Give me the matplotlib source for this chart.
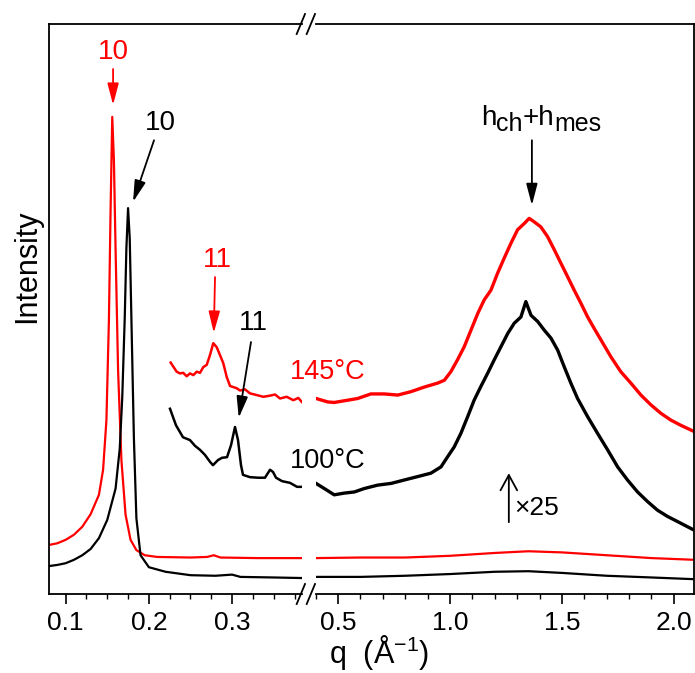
import numpy as np
import matplotlib
matplotlib.use("Agg")
import matplotlib.pyplot as plt
from matplotlib.ticker import MultipleLocator, FormatStrFormatter

plt.rcParams['font.family'] = ['Liberation Sans', 'DejaVu Sans']
plt.rcParams['mathtext.default'] = 'regular'

RED = '#ff0000'

# ---- data (q in 1/A, intensity in arbitrary units) ----
# full-scale curves, low q part
q_low_main_100 = [0.080, 0.090, 0.100, 0.110, 0.120, 0.130, 0.140, 0.150, 0.160, 0.165,
                  0.168, 0.171, 0.173, 0.175, 0.177, 0.179, 0.182, 0.185, 0.190, 0.200,
                  0.220, 0.250, 0.280, 0.300, 0.310, 0.350, 0.384]
i_low_main_100 = [4.9, 5.1, 5.4, 6.0, 6.8, 7.9, 9.8, 13.0, 18.5, 25.5,
                  34.4, 48.4, 60.7, 67.7, 62.4, 48.4, 27.4, 13.3, 6.8, 4.7,
                  3.9, 3.3, 3.2, 3.4, 3.0, 2.9, 2.8]

q_low_main_145 = [0.080, 0.090, 0.100, 0.110, 0.120, 0.130, 0.140, 0.145, 0.149, 0.152,
                  0.154, 0.156, 0.158, 0.160, 0.163, 0.167, 0.172, 0.178, 0.185, 0.195,
                  0.210, 0.250, 0.270, 0.278, 0.286, 0.330, 0.384]
i_low_main_145 = [8.6, 8.9, 9.5, 10.4, 11.8, 14.0, 17.4, 21.8, 30.5, 48.1,
                  67.4, 83.7, 76.1, 60.4, 39.3, 23.5, 13.9, 9.5, 7.7, 6.8,
                  6.5, 6.4, 6.5, 6.8, 6.4, 6.3, 6.3]

# full-scale curves, high q part
q_high_main = [0.402, 0.6, 0.8, 1.0, 1.2, 1.35, 1.5, 1.7, 1.9, 2.09]
i_high_main_100 = [3.0, 3.0, 3.2, 3.5, 3.9, 4.0, 3.7, 3.2, 2.9, 2.6]
i_high_main_145 = [6.3, 6.4, 6.4, 6.7, 7.2, 7.5, 7.3, 6.8, 6.3, 6.0]

# x25 magnified curves, low q part
q_low_x25_145 = [0.2262, 0.2293, 0.2334, 0.2374, 0.2413, 0.2454, 0.2494, 0.2534, 0.2575, 0.2614,
                 0.2654, 0.2695, 0.2734, 0.2774, 0.2815, 0.2855, 0.2894, 0.2935, 0.2975, 0.3014,
                 0.3055, 0.3095, 0.3155, 0.3215, 0.3296, 0.3375, 0.3456, 0.3516, 0.3576, 0.3656,
                 0.3736, 0.3796, 0.3837]
i_low_x25_145 = [40.6, 39.9, 39.0, 38.7, 38.8, 38.2, 38.7, 38.4, 39.0, 38.8,
                 39.8, 40.2, 41.9, 44.0, 43.3, 41.9, 40.5, 38.1, 36.5, 36.3,
                 36.1, 35.7, 35.9, 35.2, 34.9, 34.6, 34.8, 35.0, 34.3, 34.6,
                 34.0, 34.4, 33.7]

q_low_x25_100 = [0.2254, 0.2326, 0.2410, 0.2494, 0.2554, 0.2614, 0.2674, 0.2734, 0.2770, 0.2831,
                 0.2879, 0.2939, 0.2987, 0.3035, 0.3071, 0.3107, 0.3131, 0.3215, 0.3311, 0.3395,
                 0.3456, 0.3492, 0.3528, 0.3600, 0.3696, 0.3780, 0.3840]
i_low_x25_100 = [32.5, 29.6, 27.5, 27.0, 26.0, 25.3, 24.4, 23.2, 22.6, 23.5,
                 23.9, 24.0, 26.1, 29.3, 27.0, 22.6, 20.9, 20.5, 20.4, 20.4,
                 21.8, 21.4, 20.4, 19.8, 19.5, 18.8, 18.8]

# x25 magnified curves, high q part
q_high_x25_145 = [0.402, 0.454, 0.483, 0.528, 0.588, 0.647, 0.707, 0.767, 0.826, 0.885,
                  0.945, 0.975, 1.004, 1.034, 1.064, 1.094, 1.124, 1.153, 1.183, 1.213,
                  1.242, 1.272, 1.302, 1.332, 1.354, 1.376, 1.406, 1.436, 1.466, 1.496,
                  1.525, 1.555, 1.585, 1.615, 1.644, 1.674, 1.719, 1.763, 1.808, 1.853,
                  1.897, 1.942, 1.987, 2.031, 2.091]
i_high_x25_145 = [34.3, 33.7, 33.6, 33.9, 34.3, 35.1, 35.1, 34.9, 35.5, 36.3,
                  37.0, 37.5, 39.0, 41.1, 43.4, 46.3, 49.2, 51.6, 53.3, 56.3,
                  58.9, 61.5, 63.9, 65.0, 65.9, 65.3, 64.4, 62.7, 60.4, 58.0,
                  55.7, 53.3, 51.0, 48.6, 46.6, 44.6, 41.6, 39.0, 37.0, 34.9,
                  33.2, 31.7, 30.5, 29.6, 28.5]

q_high_x25_100 = [0.402, 0.439, 0.483, 0.528, 0.573, 0.617, 0.677, 0.737, 0.796, 0.856,
                  0.915, 0.960, 0.990, 1.019, 1.049, 1.079, 1.108, 1.138, 1.168, 1.198,
                  1.228, 1.258, 1.287, 1.317, 1.339, 1.362, 1.392, 1.421, 1.451, 1.481,
                  1.510, 1.540, 1.570, 1.615, 1.659, 1.704, 1.749, 1.793, 1.838, 1.883,
                  1.927, 1.972, 2.017, 2.061, 2.091]
i_high_x25_100 = [19.4, 18.5, 17.4, 17.7, 17.9, 18.5, 19.1, 19.4, 20.0, 20.6,
                  21.2, 22.3, 24.1, 25.8, 28.2, 31.1, 34.0, 36.4, 38.7, 41.1,
                  43.4, 45.7, 47.5, 48.6, 51.3, 48.9, 47.8, 46.3, 44.9, 42.8,
                  39.9, 37.0, 34.3, 31.1, 28.2, 25.3, 22.3, 20.0, 17.9, 16.2,
                  14.7, 13.6, 12.7, 11.8, 11.2]

W, H = 695, 673
fig = plt.figure(figsize=(W / 100, H / 100), dpi=100)

bot, top = 79, 594 - 24
ax1 = fig.add_axes([49 / W, bot / H, (302 - 49) / W, top / H])
ax2 = fig.add_axes([315.6 / W, bot / H, (694 - 315.6) / W, top / H])

ax1.plot(q_low_main_145, i_low_main_145, color=RED, lw=1.6)
ax1.plot(q_low_main_100, i_low_main_100, color='black', lw=1.6)
ax1.plot(q_low_x25_145, i_low_x25_145, color=RED, lw=1.8)
ax1.plot(q_low_x25_100, i_low_x25_100, color='black', lw=1.8)

ax2.plot(q_high_main, i_high_main_145, color=RED, lw=1.6)
ax2.plot(q_high_main, i_high_main_100, color='black', lw=1.6)
ax2.plot(q_high_x25_145, i_high_x25_145, color=RED, lw=2.4)
ax2.plot(q_high_x25_100, i_high_x25_100, color='black', lw=2.4)

ax1.set_xlim(0.08, 0.384)
ax2.set_xlim(0.4, 2.09)
for ax in (ax1, ax2):
    ax.set_ylim(0, 100)
    ax.set_yticks([])
    ax.tick_params(axis='x', which='major', length=7, width=1.2, labelsize=19, pad=5)
    ax.tick_params(axis='x', which='minor', length=3.5, width=1.0)
    for s in ax.spines.values():
        s.set_linewidth(1.3)
    ax.xaxis.set_major_formatter(FormatStrFormatter('%.1f'))
ax1.spines['right'].set_visible(False)
ax2.spines['left'].set_visible(False)
ax1.xaxis.set_major_locator(MultipleLocator(0.1))
ax1.xaxis.set_minor_locator(MultipleLocator(0.025))
ax2.xaxis.set_major_locator(MultipleLocator(0.5))
ax2.xaxis.set_minor_locator(MultipleLocator(0.1))

# axis break marks
for yb in (24, 594):
    for x0 in (296.7, 306.7):
        fig.add_artist(plt.Line2D([x0 / W, (x0 + 8.3) / W],
                                  [1 - (yb + 10) / H, 1 - (yb - 10) / H],
                                  color='black', lw=1.3, transform=fig.transFigure))

fig.text(27 / W, 1 - 266 / H, 'Intensity', rotation=90, ha='center', va='center', fontsize=22)
fig.text(379 / W, 1 - 653 / H, 'q  (Å$^{-1}$)', ha='center', va='center', fontsize=22)

def arrow(ax, tail, head, color, style='-|>,head_length=0.65,head_width=0.17'):
    ax.annotate('', xy=head, xytext=tail,
                arrowprops=dict(arrowstyle=style, color=color, lw=1.3,
                                mutation_scale=20, shrinkA=0, shrinkB=0))

ax1.text(0.157, 95.1, '10', color=RED, fontsize=20, ha='center', va='center')
arrow(ax1, (0.157, 92.1), (0.157, 85.8), RED)
ax1.text(0.2135, 82.6, '10', color='black', fontsize=20, ha='center', va='center')
arrow(ax1, (0.2062, 79.6), (0.181, 68.8), 'black')
ax1.text(0.282, 58.6, '11', color=RED, fontsize=20, ha='center', va='center')
arrow(ax1, (0.2795, 55.6), (0.278, 45.8), RED)
ax1.text(0.325, 47.5, '11', color='black', fontsize=20, ha='center', va='center')
arrow(ax1, (0.3227, 44.2), (0.308, 30.9), 'black')

ax2.text(0.625, 38.9, '145°C', color=RED, fontsize=19.5, ha='right', va='center')
ax2.text(0.625, 23.3, '100°C', color='black', fontsize=19.5, ha='right', va='center')

# h_ch + h_mes label with large subscripts
t = ax2.text(1.138, 82.3, 'h', fontsize=20, ha='left', va='baseline')
for s, sz, dy in (('ch', 18, -4), ('+h', 20, 4), ('mes', 18, -4)):
    t = ax2.annotate(s, xy=(1, 0), xycoords=t, xytext=(0, dy), textcoords='offset points',
                     fontsize=sz, ha='left', va='bottom')
arrow(ax2, (1.366, 79.6), (1.366, 68.2), 'black')
arrow(ax2, (1.263, 12.6), (1.263, 21.2), 'black', style='->,head_length=0.55,head_width=0.3')
ax2.text(1.286, 15.1, '×25', color='black', fontsize=19, ha='left', va='center')

fig.savefig('out.png', dpi=100)
